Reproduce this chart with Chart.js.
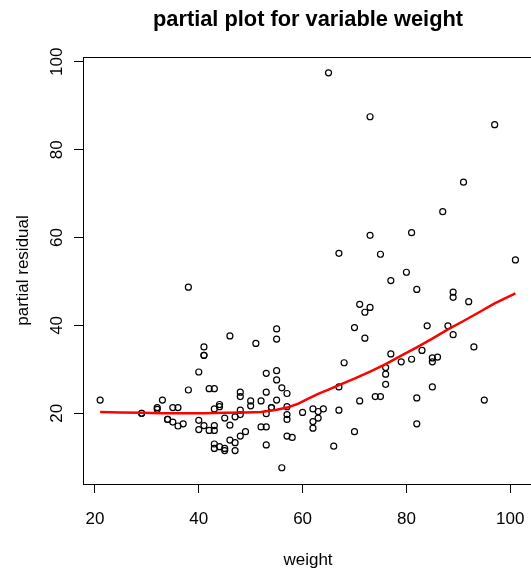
<!DOCTYPE html>
<html>
<head>
<meta charset="utf-8">
<title>partial plot for variable weight</title>
<script src="https://cdn.jsdelivr.net/npm/chart.js@4/dist/chart.umd.min.js"></script>
<style>
  html, body { margin: 0; padding: 0; background: #fff; overflow: hidden; }
  canvas { display: block; }
</style>
</head>
<body>
<canvas id="partialPlot" width="531" height="575"></canvas>
<script>

// values
const weight = [
    21, 29, 29, 32, 32, 33, 34, 34, 35, 35, 36, 36, 37, 38, 38,
    40, 40, 40, 41, 41, 41, 41, 42, 42, 43, 43, 43, 43, 43, 43,
    44, 44, 44, 45, 45, 45, 46, 46, 46, 47, 47, 47, 48, 48, 48, 48, 48,
    49, 50, 50, 51, 52, 52, 53, 53, 53, 53, 53, 54, 54,
    55, 55, 55, 55, 55, 56, 56, 57, 57, 57, 57, 57, 58, 60,
    62, 62, 62, 63, 63, 64, 65, 66, 67, 67, 67, 68, 70, 70,
    71, 71, 72, 72, 73, 73, 73, 74, 75, 75, 76, 76, 76, 77, 77,
    79, 80, 81, 81, 82, 82, 82, 83, 84, 85, 85, 85, 86, 87, 88,
    89, 89, 89, 91, 92, 93, 95, 97, 101
];
const residual = [
    23.0, 20.0, 20.0, 21.3, 20.9, 23.0, 18.6, 18.6, 18.0, 21.3, 21.3, 17.1, 17.6, 25.3, 48.7,
    29.4, 18.4, 16.3, 35.1, 33.2, 33.2, 17.2, 25.6, 16.1, 25.6, 21.0, 17.2, 16.1, 13.0, 12.0,
    22.0, 21.5, 12.4, 12.0, 11.5, 18.9, 37.6, 17.3, 13.9, 19.2, 13.3, 11.5, 24.8, 23.8, 20.7, 19.7, 14.8,
    15.8, 22.8, 21.7, 35.9, 22.8, 16.9, 29.1, 24.8, 19.9, 16.9, 12.8, 21.3, 21.3,
    39.2, 36.9, 29.7, 27.6, 23.0, 25.8, 7.6, 24.5, 21.5, 19.7, 18.6, 14.8, 14.5, 20.2,
    21.0, 18.1, 16.6, 20.4, 18.9, 21.0, 97.5, 12.5, 20.7, 26.0, 56.4, 31.5, 15.8, 39.5,
    22.8, 44.8, 43.0, 37.1, 44.1, 60.5, 87.5, 23.8, 23.8, 56.2, 30.4, 28.9, 26.6, 33.5, 50.2,
    31.7, 52.1, 32.3, 61.1, 17.6, 23.5, 48.2, 34.3, 39.9, 26.0, 32.6, 31.7, 32.8, 65.9, 39.9,
    37.9, 47.6, 46.4, 72.6, 45.4, 35.1, 23.0, 85.7, 54.9
];

// smoothed (red) curve
const smoothWeight = [21, 25, 29, 33, 37, 41, 45, 49, 52, 55, 57, 59, 61, 63, 65, 67, 70, 73, 76, 79, 82, 85, 88, 91, 94, 97, 101];
const smoothResidual = [20.3, 20.2, 20.1, 20.0, 20.0, 20.0, 20.1, 20.2, 20.3, 20.8, 21.3, 22.1, 23.3, 24.4, 25.4, 26.4, 27.9, 29.5, 31.2, 33.1, 35.0, 37.0, 39.1, 41.0, 43.0, 45.0, 47.3];

const xTicks = [20, 40, 60, 80, 100];
const yTicks = [20, 40, 60, 80, 100];

const fontFamily = '"Liberation Sans", Arial, Helvetica, sans-serif';

// R style bits: box top, turned y labels, titles
const rStylePlugin = {
    id: 'rStyle',
    afterDraw(chart) {
        const ctx = chart.ctx;
        const area = chart.chartArea;
        const yScale = chart.scales.y;

        ctx.save();
        ctx.strokeStyle = '#000';
        ctx.lineWidth = 1;
        ctx.beginPath();
        ctx.moveTo(area.left, Math.round(area.top) + 0.5);
        ctx.lineTo(chart.width, Math.round(area.top) + 0.5);
        ctx.moveTo(area.left, Math.round(area.bottom) + 0.5);
        ctx.lineTo(chart.width, Math.round(area.bottom) + 0.5);
        ctx.stroke();

        ctx.fillStyle = '#000';
        ctx.textAlign = 'center';
        ctx.textBaseline = 'middle';
        ctx.font = '17px ' + fontFamily;
        yTicks.forEach(function(v) {
            ctx.save();
            ctx.translate(57, yScale.getPixelForValue(v));
            ctx.rotate(-Math.PI / 2);
            ctx.fillText(String(v), 0, 0);
            ctx.restore();
        });

        // axis titles
        ctx.fillText('weight', 308, 560);
        ctx.save();
        ctx.translate(23, (area.top + area.bottom) / 2);
        ctx.rotate(-Math.PI / 2);
        ctx.fillText('partial residual', 0, 0);
        ctx.restore();

        // main title
        ctx.font = 'bold 21.8px ' + fontFamily;
        ctx.textBaseline = 'alphabetic';
        ctx.fillText('partial plot for variable weight', 308, 26);
        ctx.restore();
    }
};

let points = weight.map(function(w, i) { return { x: w, y: residual[i] }; });
let smooth = smoothWeight.map(function(w, i) { return { x: w, y: smoothResidual[i] }; });

let ctx = document.getElementById('partialPlot').getContext('2d');

let myChart = new Chart(ctx, {
    type: 'scatter',
    data: {
        datasets: [{
            type: 'line',
            data: smooth,
            borderColor: '#ff0000',
            borderWidth: 2.5,
            pointRadius: 0,
            tension: 0,
            fill: false
        }, {
            data: points,
            pointStyle: 'circle',
            pointRadius: 3,
            pointBorderWidth: 1.2,
            borderColor: '#000',
            backgroundColor: 'rgba(0,0,0,0)'
        }]
    },
    options: {
        responsive: false,
        animation: false,
        events: [],
        layout: { padding: { top: 57, left: 0, right: 0, bottom: 0 } },
        plugins: {
            legend: { display: false },
            tooltip: { enabled: false },
            title: { display: false }
        },
        scales: {
            x: {
                type: 'linear',
                min: 17.7,
                max: 103.0,
                afterBuildTicks: function(s) { s.ticks = xTicks.map(function(v) { return { value: v }; }); },
                afterFit: function(s) {
                    s.height = 91;
                    s.paddingLeft = 0;
                    s.paddingRight = 0;
                },
                grid: { drawOnChartArea: false, drawTicks: true, tickLength: 9, color: '#000', lineWidth: 1 },
                border: { display: true, color: '#000', width: 1 },
                ticks: {
                    color: '#000',
                    font: { size: 17, family: fontFamily },
                    padding: 16,
                    maxRotation: 0,
                    autoSkip: false
                }
            },
            y: {
                type: 'linear',
                min: 3.9,
                max: 101.1,
                afterBuildTicks: function(s) { s.ticks = yTicks.map(function(v) { return { value: v }; }); },
                afterFit: function(s) {
                    s.width = 83;
                    s.paddingTop = 0;
                    s.paddingBottom = 0;
                },
                grid: { drawOnChartArea: false, drawTicks: true, tickLength: 9, color: '#000', lineWidth: 1 },
                border: { display: true, color: '#000', width: 1 },
                ticks: { display: false }
            }
        }
    },
    plugins: [rStylePlugin]
});
</script>
</body>
</html>
